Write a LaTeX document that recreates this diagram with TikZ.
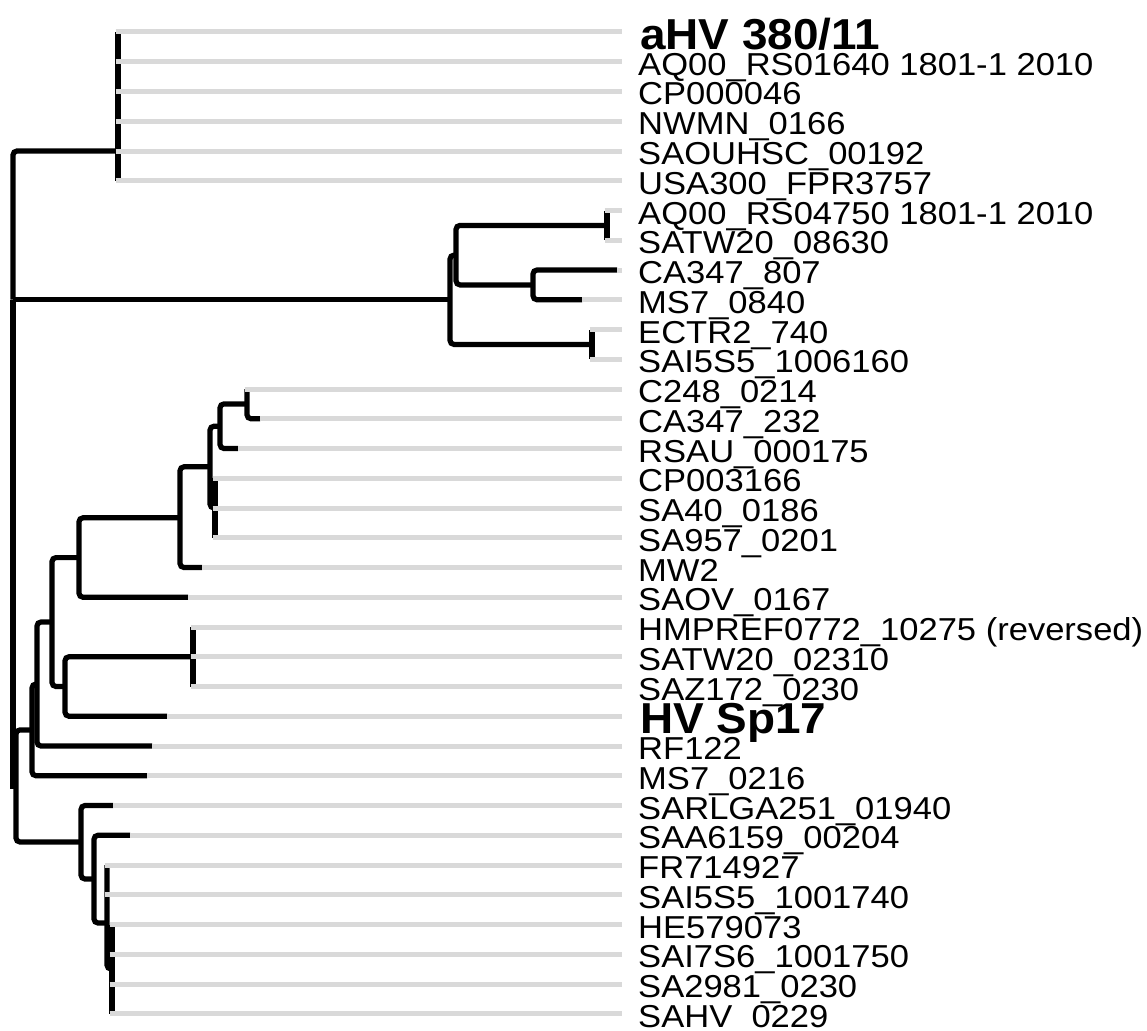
\documentclass[tikz,border=0pt]{standalone}
\usepackage{fontspec}
\setmainfont{Liberation Sans}
\newfontfamily\labfont{Liberation Sans}[FakeStretch=1.09]
\newfontfamily\blabfont{Liberation Sans}[FakeStretch=1.06]
\definecolor{leadgray}{HTML}{D9D9D9}
\begin{document}
\begin{tikzpicture}[x=1pt,y=-1pt,
 br/.style={draw=black,line width=5.2pt,rounded corners=4pt},
 lead/.style={draw=leadgray,line width=5pt},
 lab/.style={anchor=base west,inner sep=0pt,font=\labfont\fontsize{31.7}{32}\selectfont},
 labb/.style={anchor=base west,inner sep=0pt,font=\blabfont\bfseries\fontsize{43.3}{44}\selectfont}]
\useasboundingbox[fill=white] (0,0) rectangle (1147,1030);
\coordinate (X) at (622,0);
% ---------- leaf branch ends ----------
\coordinate (L0) at (115.5,32);
\coordinate (L1) at (115.5,61.75);
\coordinate (L2) at (115.5,91.5);
\coordinate (L3) at (115.5,121.25);
\coordinate (L4) at (115.5,151);
\coordinate (L5) at (115.5,180.75);
\coordinate (L6) at (604.5,210.5);
\coordinate (L7) at (604.5,240.25);
\coordinate (L8) at (617,270);
\coordinate (L9) at (582,299.75);
\coordinate (L10) at (589.5,329.5);
\coordinate (L11) at (589.5,359.25);
\coordinate (L12) at (244.5,389);
\coordinate (L13) at (260,418.75);
\coordinate (L14) at (238,448.5);
\coordinate (L15) at (212.5,478.25);
\coordinate (L16) at (212.5,508);
\coordinate (L17) at (212.5,537.75);
\coordinate (L18) at (202,567.5);
\coordinate (L19) at (188,597.25);
\coordinate (L20) at (190.5,627);
\coordinate (L21) at (190.5,656.75);
\coordinate (L22) at (190.5,686.5);
\coordinate (L23) at (167,716.25);
\coordinate (L24) at (152,746);
\coordinate (L25) at (147,775.75);
\coordinate (L26) at (113,805.5);
\coordinate (L27) at (130,835.25);
\coordinate (L28) at (104.5,865);
\coordinate (L29) at (104.5,894.75);
\coordinate (L30) at (109.5,924.5);
\coordinate (L31) at (109.5,954.25);
\coordinate (L32) at (109.5,984);
\coordinate (L33) at (109.5,1013.75);
% ---------- internal nodes ----------
\coordinate (R) at (13,299.7);
\coordinate (T) at (118,151);
\coordinate (M) at (450,299.7);
\coordinate (D) at (456,255.1);
\coordinate (E) at (607,225.4);
\coordinate (F) at (533,284.9);
\coordinate (G) at (592,344.4);
\coordinate (B1) at (16,786);
\coordinate (N32) at (32,729.9);
\coordinate (N37) at (37,684);
\coordinate (N52) at (52,622);
\coordinate (N78) at (79,557.6);
\coordinate (N180) at (180,517.8);
\coordinate (N211) at (210,466.8);
\coordinate (N220) at (220,426.2);
\coordinate (N247) at (247,403.9);
\coordinate (N213) at (215,508);
\coordinate (N65) at (65,686.5);
\coordinate (N193) at (193,656.75);
\coordinate (N80) at (81,842);
\coordinate (H) at (94,879);
\coordinate (I) at (107,923);
\coordinate (J) at (112,969);
% ---------- black branches ----------
\draw[br] (T) -| (R);
\draw[br] (R) -- (M);
\draw[br,sharp corners] (R) |- (B1);
\draw[br] (T |- L0) -- (T |- L5);
\draw[br] (D) -| (M) |- (G);
\draw[br] (E) -| (D) |- (F);
\draw[br] (E |- L6) -- (E |- L7);
\draw[br] (L8) -| (F) |- (L9);
\draw[br] (G |- L10) -- (G |- L11);
\draw[br] (N32) -| (B1) |- (N80);
\draw[br] (N37) -| (N32) |- (L25);
\draw[br] (N52) -| (N37) |- (L24);
\draw[br] (N78) -| (N52) |- (N65);
\draw[br] (N180) -| (N78) |- (L19);
\draw[br] (N211) -| (N180) |- (L18);
\draw[br] (N220) -| (N211) |- (N213);
\draw[br] (N247) -| (N220) |- (L14);
\draw[br] (N247 |- L12) |- (L13);
\draw[br] (N213 |- L15) -- (N213 |- L17);
\draw[br] (N193) -| (N65) |- (L23);
\draw[br] (N193 |- L20) -- (N193 |- L22);
\draw[br] (L26) -| (N80) |- (H);
\draw[br] (L27) -| (H) |- (I);
\draw[br] (I |- L28) |- (J);
\draw[br] (J |- L30) -- (J |- L33);
% ---------- gray leaders ----------
\foreach \i in {0,...,33}{\draw[lead] (L\i) -- (L\i -| X);}
% ---------- labels ----------
\node[labb] (t0) at (640,49.3) {aHV 380/11};
\node[lab] (t1) at (638,75.25) {AQ00\_RS01640 1801-1 2010};
\node[lab] (t2) at (638,105) {CP000046};
\node[lab] (t3) at (638,134.75) {NWMN\_0166};
\node[lab] (t4) at (638,164.5) {SAOUHSC\_00192};
\node[lab] (t5) at (638,194.25) {USA300\_FPR3757};
\node[lab] (t6) at (638,224) {AQ00\_RS04750 1801-1 2010};
\node[lab] (t7) at (638,253.75) {SATW20\_08630};
\node[lab] (t8) at (638,283.5) {CA347\_807};
\node[lab] (t9) at (638,313.25) {MS7\_0840};
\node[lab] (t10) at (638,343) {ECTR2\_740};
\node[lab] (t11) at (638,372.75) {SAI5S5\_1006160};
\node[lab] (t12) at (638,402.5) {C248\_0214};
\node[lab] (t13) at (638,432.25) {CA347\_232};
\node[lab] (t14) at (638,462) {RSAU\_000175};
\node[lab] (t15) at (638,491.75) {CP003166};
\node[lab] (t16) at (638,521.5) {SA40\_0186};
\node[lab] (t17) at (638,551.25) {SA957\_0201};
\node[lab] (t18) at (638,581) {MW2};
\node[lab] (t19) at (638,610.75) {SAOV\_0167};
\node[lab] (t20) at (638,640.5) {HMPREF0772\_10275 (reversed)};
\node[lab] (t21) at (638,670.25) {SATW20\_02310};
\node[lab] (t22) at (638,700) {SAZ172\_0230};
\node[labb] (t23) at (640,733.5) {HV Sp17};
\node[lab] (t24) at (638,759.5) {RF122};
\node[lab] (t25) at (638,789.25) {MS7\_0216};
\node[lab] (t26) at (638,819) {SARLGA251\_01940};
\node[lab] (t27) at (638,848.75) {SAA6159\_00204};
\node[lab] (t28) at (638,878.5) {FR714927};
\node[lab] (t29) at (638,908.25) {SAI5S5\_1001740};
\node[lab] (t30) at (638,938) {HE579073};
\node[lab] (t31) at (638,967.75) {SAI7S6\_1001750};
\node[lab] (t32) at (638,997.5) {SA2981\_0230};
\node[lab] (t33) at (638,1027.25) {SAHV\_0229};
\end{tikzpicture}
\end{document}
